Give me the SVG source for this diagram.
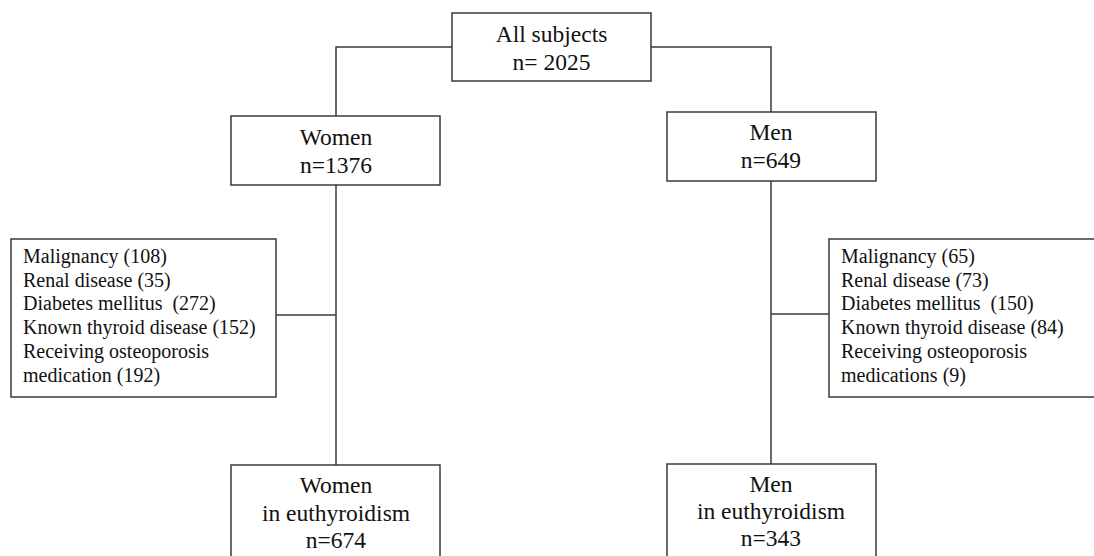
<svg xmlns="http://www.w3.org/2000/svg" width="1094" height="556" viewBox="0 0 1094 556">
<style>
.box{fill:#fff;stroke:#3a3a3a;stroke-width:1.5}
.ln{fill:none;stroke:#3a3a3a;stroke-width:1.5}
.t{font-family:"Liberation Serif","Times New Roman",serif;fill:#111}
.m{font-size:23.5px;text-anchor:middle}
.e{font-size:20px}
</style>
<rect width="1094" height="556" fill="#fff"/>
<g id="connectors">
<path class="ln" d="M452,47 H336 V116"/>
<path class="ln" d="M651,47 H771 V112"/>
<path class="ln" d="M336,185 V465"/>
<path class="ln" d="M771,181 V464"/>
<path class="ln" d="M276,315 H336"/>
<path class="ln" d="M771,314 H829"/>
</g>
<g id="all">
<rect class="box" x="452" y="13" width="199" height="68"/>
<text class="t m" x="551.5" y="42">All subjects</text>
<text class="t m" x="551.5" y="70">n= 2025</text>
</g>
<g id="women">
<rect class="box" x="231" y="116" width="209" height="69"/>
<text class="t m" x="336" y="145">Women</text>
<text class="t m" x="336" y="173">n=1376</text>
</g>
<g id="men">
<rect class="box" x="667" y="112" width="209" height="69"/>
<text class="t m" x="771" y="140">Men</text>
<text class="t m" x="771" y="168">n=649</text>
</g>
<g id="excl-women">
<rect class="box" x="11" y="239" width="265" height="158"/>
<text class="t e" x="23" y="263">Malignancy (108)</text>
<text class="t e" x="23" y="287">Renal disease (35)</text>
<text class="t e" x="23" y="310">Diabetes mellitus <tspan dx="5">(272)</tspan></text>
<text class="t e" x="23" y="334">Known thyroid disease (152)</text>
<text class="t e" x="23" y="358">Receiving osteoporosis</text>
<text class="t e" x="23" y="382">medication (192)</text>
</g>
<g id="excl-men">
<rect class="box" x="829" y="239" width="280" height="158"/>
<text class="t e" x="841" y="263">Malignancy (65)</text>
<text class="t e" x="841" y="287">Renal disease (73)</text>
<text class="t e" x="841" y="310">Diabetes mellitus <tspan dx="5">(150)</tspan></text>
<text class="t e" x="841" y="334">Known thyroid disease (84)</text>
<text class="t e" x="841" y="358">Receiving osteoporosis</text>
<text class="t e" x="841" y="382">medications (9)</text>
</g>
<g id="women-eu">
<rect class="box" x="231" y="465" width="209" height="100"/>
<text class="t m" x="336" y="493">Women</text>
<text class="t m" x="336" y="521">in euthyroidism</text>
<text class="t m" x="336" y="548">n=674</text>
</g>
<g id="men-eu">
<rect class="box" x="667" y="464" width="209" height="100"/>
<text class="t m" x="771" y="492">Men</text>
<text class="t m" x="771" y="519">in euthyroidism</text>
<text class="t m" x="771" y="546">n=343</text>
</g>
</svg>
